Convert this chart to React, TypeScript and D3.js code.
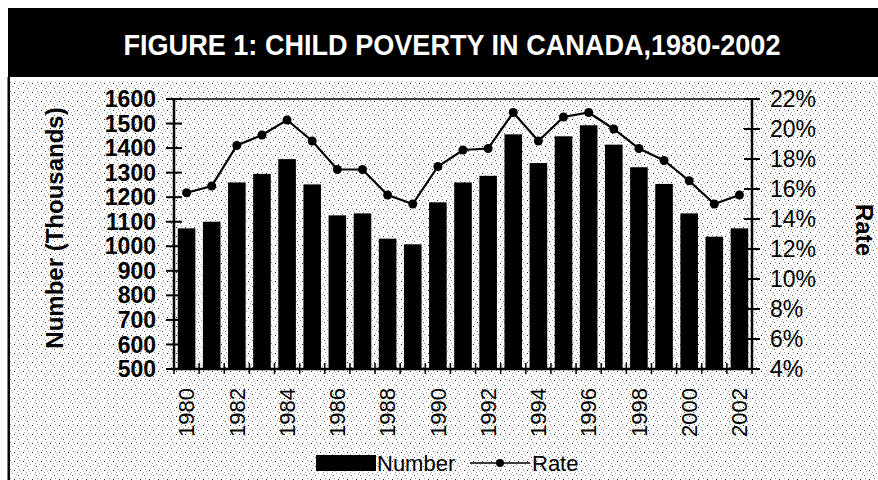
import React from "react";
import * as d3 from "d3";

const years = ["1980","1981","1982","1983","1984","1985","1986","1987","1988","1989","1990","1991","1992","1993","1994","1995","1996","1997","1998","1999","2000","2001","2002"];
const numbers = [1073,1100,1260,1295,1355,1252,1126,1134,1031,1008,1179,1260,1287,1456,1339,1448,1493,1414,1322,1254,1134,1039,1073];
const rates = [15.75,16.2,18.9,19.6,20.6,19.2,17.3,17.3,15.6,15.0,17.5,18.6,18.7,21.1,19.2,20.8,21.1,20.0,18.7,17.9,16.55,15.0,15.6];
const leftTicks = [500,600,700,800,900,1000,1100,1200,1300,1400,1500,1600];
const rightTicks = [4,6,8,10,12,14,16,18,20,22];
const xLabels = ["1980","1982","1984","1986","1988","1990","1992","1994","1996","1998","2000","2002"];
const title = "FIGURE 1: CHILD POVERTY IN CANADA,1980-2002";
const leftTitle = "Number (Thousands)";
const rightTitle = "Rate";
const legendLabels = ["Number", "Rate"];

const W = 878, H = 480;
const L = 174, R = 752, T = 99, B = 369;
const FONT = "'Liberation Sans', Arial, sans-serif";

export default function App() {
  const x = d3.scaleBand<string>().domain(years).range([L, R]).paddingInner(0.3).paddingOuter(0.15);
  const yL = d3.scaleLinear().domain([500, 1600]).range([B, T]);
  const yR = d3.scaleLinear().domain([4, 22]).range([B, T]);
  const cx = (y: string) => (x(y) as number) + x.bandwidth() / 2;
  const line = d3.line<number>().x((_, i) => cx(years[i])).y((d) => yR(d));
  const step = x.step();
  const boundaries = d3.range(years.length + 1).map((i) => L + i * step);

  return (
    <svg width={W} height={H} style={{ position: "absolute", left: 0, top: 0 }} fontFamily={FONT}>
      <defs>
        <pattern id="stip" width="9" height="9" patternUnits="userSpaceOnUse">
          <rect width="9" height="9" fill="#ffffff" />
          <rect x="1" y="1" width="1" height="1" fill="#8a8a8a" />
          <rect x="5" y="2" width="1" height="1" fill="#222" />
          <rect x="3" y="5" width="1" height="1" fill="#9a9a9a" />
          <rect x="7" y="6" width="1" height="1" fill="#aaaaaa" />
          <rect x="0" y="7" width="1" height="1" fill="#555" />
          <rect x="6" y="0" width="1" height="1" fill="#b0b0b0" />
          <rect x="2" y="3" width="1" height="1" fill="#c0c0c0" />
          <rect x="8" y="4" width="1" height="1" fill="#999" />
        </pattern>
      </defs>
      <rect x={0} y={0} width={W} height={H} fill="#fff" />
      <rect x={10} y={80} width={W - 10} height={H - 80} fill="url(#stip)" />
      <rect x={7.5} y={77} width={2.5} height={H - 77} fill="#000" />
      <rect x={8} y={8} width={W - 8} height={69} fill="#000" />
      <text x={452} y={55} textAnchor="middle" fill="#fff" fontSize={29} fontWeight="bold" textLength={657} lengthAdjust="spacingAndGlyphs">{title}</text>

      {/* plot frame */}
      <line x1={L} x2={R} y1={T} y2={T} stroke="#000" strokeWidth={1.5} />
      {/* bars */}
      {years.map((yr, i) => (
        <rect key={yr} x={x(yr)} y={yL(numbers[i])} width={x.bandwidth()} height={B - yL(numbers[i])} fill="#000" />
      ))}
      {/* axes */}
      <line x1={L} x2={L} y1={T} y2={B} stroke="#000" strokeWidth={2.5} />
      <line x1={R} x2={R} y1={T} y2={B} stroke="#000" strokeWidth={2.5} />
      <line x1={L} x2={R} y1={B} y2={B} stroke="#000" strokeWidth={2.5} />
      {leftTicks.map((t) => (
        <g key={"l" + t}>
          <line x1={L - 8} x2={L + 8} y1={yL(t)} y2={yL(t)} stroke="#000" strokeWidth={2} />
          <text x={156} y={yL(t)} dy="0.35em" textAnchor="end" fontSize={23} fontWeight="bold">{t}</text>
        </g>
      ))}
      {rightTicks.map((t) => (
        <g key={"r" + t}>
          <line x1={R - 8} x2={R + 8} y1={yR(t)} y2={yR(t)} stroke="#000" strokeWidth={2} />
          <text x={770} y={yR(t)} dy="0.35em" textAnchor="start" fontSize={23}>{t + "%"}</text>
        </g>
      ))}
      {boundaries.map((bx, i) => (
        <line key={"b" + i} x1={bx} x2={bx} y1={B - 6} y2={B + 5} stroke="#000" strokeWidth={1.5} />
      ))}
      {xLabels.map((lab) => (
        <text key={"x" + lab} transform={`translate(${cx(lab)},388) rotate(-90)`} dy="0.35em" textAnchor="end" fontSize={22}>{lab}</text>
      ))}
      {/* rate line */}
      <path d={line(rates) || ""} fill="none" stroke="#000" strokeWidth={2.2} />
      {rates.map((r, i) => (
        <circle key={"c" + i} cx={cx(years[i])} cy={yR(r)} r={4.5} fill="#000" />
      ))}
      {/* axis titles */}
      <text transform={`translate(55,228) rotate(-90)`} dy="0.35em" textAnchor="middle" fontSize={24} fontWeight="bold">{leftTitle}</text>
      <text transform={`translate(864,230) rotate(90)`} dy="0.35em" textAnchor="middle" fontSize={24} fontWeight="bold">{rightTitle}</text>
      {/* legend */}
      <rect x={316} y={455} width={60} height={16} fill="#000" />
      <text x={377} y={463} dy="0.35em" fontSize={22}>{legendLabels[0]}</text>
      <line x1={470} x2={530} y1={463} y2={463} stroke="#000" strokeWidth={1.5} />
      <circle cx={500} cy={463} r={4} fill="#000" />
      <text x={532} y={463} dy="0.35em" fontSize={22}>{legendLabels[1]}</text>
    </svg>
  );
}
